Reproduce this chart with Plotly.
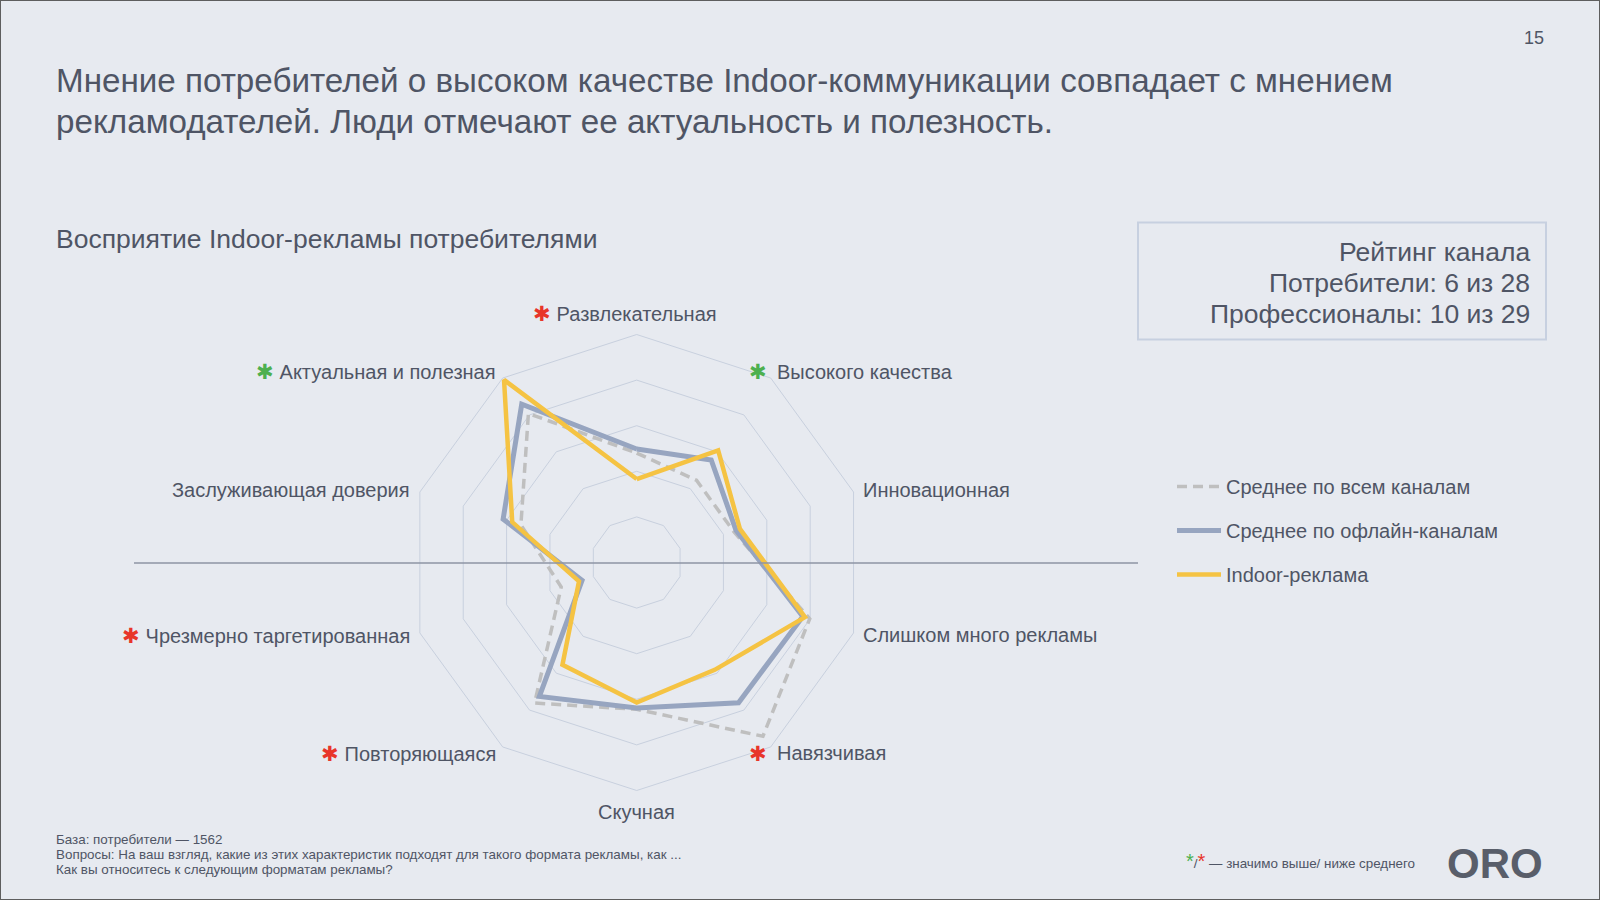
import math
import plotly.graph_objects as go

# ---- data ----
categories = [
    "Развлекательная",
    "Высокого качества",
    "Инновационная",
    "Слишком много рекламы",
    "Навязчивая",
    "Скучная",
    "Повторяющаяся",
    "Чрезмерно таргетированная",
    "Заслуживающая доверия",
    "Актуальная и полезная",
]
# significance marks: +1 higher than average (green), -1 lower (red), 0 none
significance = [-1, 1, 0, 0, -1, 0, -1, -1, 0, 1]

all_channels = [24.0, 22.3, 22.3, 39.9, 47.1, 32.2, 38.1, 17.4, 26.7, 40.4]
offline_channels = [24.9, 27.8, 22.9, 38.3, 38.0, 31.9, 36.3, 12.6, 30.8, 42.9]
indoor = [18.3, 30.4, 23.8, 38.8, 29.1, 30.7, 27.7, 13.3, 28.7, 49.5]

series_names = ["Среднее по всем каналам", "Среднее по офлайн-каналам", "Indoor-реклама"]
radial_ticks = [10, 20, 30, 40, 50]

TEXT = "#4F5565"
BG = "#E7EAF0"
GRID = "#C8D0DE"
RED = "#E8352A"
GREEN = "#4DB04F"


def closed(v):
    return list(v) + [v[0]]


theta = closed(categories)

fig = go.Figure()
fig.add_trace(go.Scatterpolar(
    r=closed(all_channels), theta=theta, mode="lines", name=series_names[0],
    line=dict(color="#BFBFBF", width=3.5, dash="10px,6px"),
    legendgroup="a", hoverinfo="skip",
))
fig.add_trace(go.Scatterpolar(
    r=closed(offline_channels), theta=theta, mode="lines", name=series_names[1],
    line=dict(color="#97A5C0", width=5),
    legendgroup="b", hoverinfo="skip",
))
fig.add_trace(go.Scatterpolar(
    r=closed(indoor), theta=theta, mode="lines", name=series_names[2],
    line=dict(color="#F5C343", width=4.5),
    legendgroup="c", hoverinfo="skip",
))

W, H = 1600, 900
cx, cy, R = 636.7, 562.5, 228.0

fig.update_layout(
    width=W, height=H,
    margin=dict(l=0, r=0, t=0, b=0),
    paper_bgcolor=BG,
    plot_bgcolor=BG,
    font=dict(family="Liberation Sans, Arial, sans-serif", color=TEXT),
    polar=dict(
        domain=dict(x=[(cx - R) / W, (cx + R) / W], y=[(H - cy - R) / H, (H - cy + R) / H]),
        bgcolor="rgba(0,0,0,0)",
        gridshape="linear",
        radialaxis=dict(range=[0, 50], tickvals=radial_ticks, showticklabels=False,
                        showline=False, ticks="", gridcolor=GRID, gridwidth=1),
        angularaxis=dict(rotation=90, direction="clockwise", categoryorder="array",
                         categoryarray=categories, showticklabels=False,
                         showgrid=False, showline=True, linecolor=GRID, linewidth=1,
                         ticks=""),
    ),
    showlegend=True,
    legend=dict(x=1172 / W, y=1 - 467 / H, xanchor="left", yanchor="top",
                bgcolor="rgba(0,0,0,0)", font=dict(size=20, color=TEXT),
                traceorder="grouped", tracegroupgap=15, itemwidth=44),
)

# slide frame and horizontal rule
fig.add_shape(type="rect", xref="paper", yref="paper", x0=0, x1=1, y0=0, y1=1,
              line=dict(color="#5E5E5E", width=2))
fig.add_shape(type="line", xref="paper", yref="paper", x0=134 / W, x1=1138 / W,
              y0=1 - 563 / H, y1=1 - 563 / H, line=dict(color="#8E95A5", width=1.5))
# rating box
fig.add_shape(type="rect", xref="paper", yref="paper", x0=1138 / W, x1=1546 / W,
              y0=1 - 339.5 / H, y1=1 - 222.5 / H, line=dict(color="#C7D0E0", width=2))


def ann(text, x, y, size, xanchor="left", yanchor="middle", color=TEXT, **kw):
    fig.add_annotation(text=text, x=x / W, y=1 - y / H, xref="paper", yref="paper",
                       xanchor=xanchor, yanchor=yanchor, showarrow=False,
                       font=dict(size=size, color=color), **kw)


# category labels around the radar
def mark(sig, visible=True):
    col = (GREEN if sig > 0 else RED) if visible else "rgba(0,0,0,0)"
    return f'<span style="color:{col};font-size:21px">✱</span>'


n = len(categories)
pad = 8
for k, (cat, sig) in enumerate(zip(categories, significance)):
    a = math.radians(360.0 * k / n)
    s, c = math.sin(a), math.cos(a)
    px = cx + (R + pad) * s
    py = cy - (R + pad) * c
    if abs(s) < 1e-6:
        txt = cat if sig == 0 else f"{mark(sig)} {cat} {mark(sig, False)}"
        ann(txt, px, py, 20, xanchor="center", yanchor="bottom" if c > 0 else "top")
    elif s > 0:
        ann(cat, px, py, 20, xanchor="left")
        if sig != 0:
            ann(mark(sig), px - 6, py, 20, xanchor="right")
    else:
        txt = cat if sig == 0 else f"{mark(sig)} {cat}"
        ann(txt, px, py, 20, xanchor="right")

ann("Мнение потребителей о высоком качестве Indoor-коммуникации совпадает с мнением", 54, 81, 33.2)
ann("рекламодателей. Люди отмечают ее актуальность и полезность.", 54, 122, 33.2)
ann("Восприятие Indoor-рекламы потребителями", 54, 239, 26.5)
ann("15", 1546, 38, 18, xanchor="right")

rating_lines = ["Рейтинг канала", "Потребители: 6 из 28", "Профессионалы: 10 из 29"]
for i, t in enumerate(rating_lines):
    ann(t, 1532, 251.7 + 31.2 * i, 26.5, xanchor="right")

foot_lines = ["База: потребители — 1562",
              "Вопросы: На ваш взгляд, какие из этих характеристик подходят для такого формата рекламы, как ...",
              "Как вы относитесь к следующим форматам рекламы?"]
for i, t in enumerate(foot_lines):
    ann(t, 54, 839 + 15 * i, 13.4)

ann(f'<span style="color:{GREEN};font-size:20px">*</span>/<span style="color:{RED};font-size:20px">*</span> — значимо выше/ ниже среднего',
    1184, 861, 13.4)
ann("<b>ORO</b>", 1545, 863, 42, xanchor="right", color="#595E6A")

fig.write_html("out.html", config={"displayModeBar": False},
               post_script="document.body.style.margin='0';document.body.style.overflow='hidden';")
